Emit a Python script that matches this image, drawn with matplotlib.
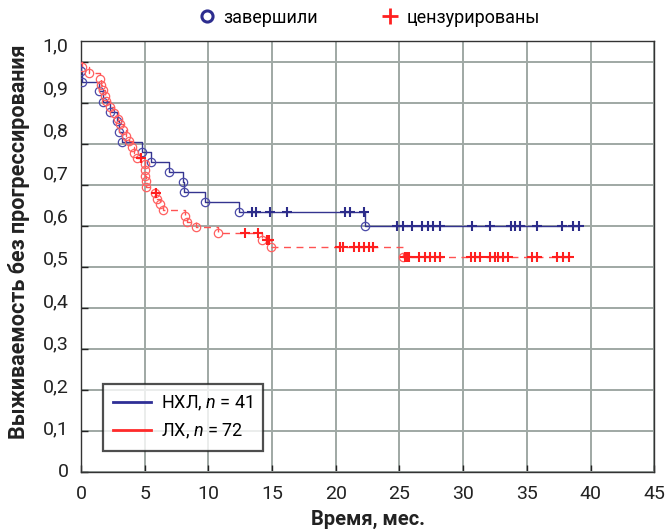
import numpy as np
import matplotlib
matplotlib.use("Agg")
import matplotlib.pyplot as plt
from matplotlib.lines import Line2D

plt.rcParams['font.family'] = ['Roboto', 'DejaVu Sans']
plt.rcParams['mathtext.fontset'] = 'custom'
plt.rcParams['mathtext.it'] = 'Roboto:italic'
plt.rcParams['mathtext.rm'] = 'Roboto'

# ---- data ----
blue_event_t = [0.03, 0.06, 1.4, 1.7, 2.3, 2.8, 2.95, 3.2, 4.8, 5.5, 6.9, 8.0, 8.05, 9.7, 12.4, 22.3]
blue_event_s = [0.976, 0.951, 0.927, 0.902, 0.878, 0.854, 0.829, 0.805, 0.780, 0.756, 0.732,
                0.707, 0.683, 0.659, 0.634, 0.600]
blue_cens_t = [13.4, 13.7, 14.8, 16.15, 20.7, 21.1, 22.2, 24.8, 25.3, 25.95, 26.8, 27.25, 27.64,
               28.17, 30.7, 32.1, 33.78, 34.1, 34.45, 35.8, 37.77, 38.6, 39.13]

red_event_t = [0.05, 0.6, 1.5, 1.6, 1.7, 1.85, 2.0, 2.3, 2.6, 2.9, 3.1, 3.3, 3.5, 3.8, 4.0, 4.2,
               4.4, 5.0, 5.02, 5.05, 5.08, 5.1, 5.8, 6.0, 6.2, 6.4, 8.2, 8.3, 9.05, 10.75,
               14.2, 14.9, 25.3]
red_event_s = [0.986, 0.972, 0.958, 0.944, 0.931, 0.917, 0.903, 0.889, 0.875, 0.861, 0.847,
               0.833, 0.819, 0.806, 0.792, 0.778, 0.764, 0.750, 0.736, 0.722, 0.708, 0.694,
               0.680, 0.666, 0.652, 0.638, 0.624, 0.610, 0.596, 0.582, 0.565, 0.547, 0.524]
red_cens_t = [4.7, 5.9, 12.84, 13.9, 14.6, 14.78, 20.3, 20.6, 21.4, 21.8, 22.2, 22.6, 22.9,
              25.45, 25.6, 25.75, 26.5, 27.0, 27.4, 27.8, 28.2, 30.6, 30.9, 31.3, 32.1, 32.5,
              32.7, 33.1, 33.5, 35.4, 35.8, 37.4, 37.8, 38.3]

x_ticks = [0, 5, 10, 15, 20, 25, 30, 35, 40, 45]
y_ticks = [0, 0.1, 0.2, 0.3, 0.4, 0.5, 0.6, 0.7, 0.8, 0.9, 1.0]
y_labels = ['0', '0,1', '0,2', '0,3', '0,4', '0,5', '0,6', '0,7', '0,8', '0,9', '1,0']
series_names = ['НХЛ, $n$ = 41', 'ЛХ, $n$ = 72']
top_legend = ['завершили', 'цензурированы']

BLUE_LINE = '#34348f'
BLUE_MARK = '#4a4aa8'
RED_LINE = '#ff5252'
RED_MARK = '#ff6060'


def level_at(ev_t, ev_s, t):
    idx = np.searchsorted(np.asarray(ev_t), t, side='right') - 1
    return 1.0 if idx < 0 else ev_s[idx]


fig = plt.figure(figsize=(6.65, 5.31), dpi=100)
ax = fig.add_axes([0.1218, 0.111, 0.862, 0.8118])

# step curves
bx = [0] + blue_event_t + [max(blue_cens_t)]
by = [1.0] + blue_event_s + [blue_event_s[-1]]
ax.step(bx, by, where='post', color=BLUE_LINE, lw=1.0, zorder=3)
rx = [0] + red_event_t + [max(red_cens_t)]
ry = [1.0] + red_event_s + [red_event_s[-1]]
ax.step(rx, ry, where='post', color=RED_LINE, lw=1.0, ls=(0, (5, 4)), zorder=3)

# event markers
ax.plot(blue_event_t, blue_event_s, 'o', mfc='none', mec=BLUE_MARK, ms=6, mew=0.9, zorder=4)
ax.plot(red_event_t, red_event_s, 'o', mfc='none', mec=RED_MARK, ms=6, mew=0.9, zorder=4)
# censored markers
ax.plot(blue_cens_t, [level_at(blue_event_t, blue_event_s, t) for t in blue_cens_t], '+',
        color='#2c2c8a', ms=7, mew=1.5, zorder=5)
ax.plot(red_cens_t, [level_at(red_event_t, red_event_s, t) for t in red_cens_t], '+',
        color='#ff1f1f', ms=7, mew=1.5, zorder=5)

ax.set_xlim(0, 45)
ax.set_ylim(0, 1.05)
ax.set_xticks(x_ticks)
ax.set_xticklabels([str(v) for v in x_ticks])
# grid / tick marks at the true values
ax.set_yticks(y_ticks, minor=True)
ax.set_yticks([0.004 + 1.037 * v for v in y_ticks])
ax.set_yticklabels(y_labels)
ax.tick_params(axis='y', which='major', length=0, pad=9, labelsize=14, colors='#222222')
ax.tick_params(axis='y', which='minor', direction='in', length=5, width=1, color='#222222')
ax.tick_params(axis='x', which='major', direction='in', length=5, width=1, pad=9,
               labelsize=14, colors='#222222')
ax.grid(True, which='minor', axis='y', color='#9fa8a4', lw=1.4)
ax.grid(True, which='major', axis='x', color='#9fa8a4', lw=1.4)
ax.set_axisbelow(True)
for s in ax.spines.values():
    s.set_color('#333333')
    s.set_linewidth(1.0)

ax.set_xlabel('Время, мес.', fontsize=14.5, fontweight='bold', color='#222222', labelpad=5)
ax.set_ylabel('Выживаемость без прогрессирования', fontsize=15.5, fontweight='bold',
              color='#222222')
ax.yaxis.set_label_coords(-0.089, 0.534)

# inner legend
h1 = Line2D([], [], color='#2f2f96', lw=2)
h2 = Line2D([], [], color='#ff2a2a', lw=2)
leg = ax.legend([h1, h2], series_names, loc='lower left', bbox_to_anchor=(0.038, 0.05),
                fontsize=13, frameon=True, fancybox=False, edgecolor='#222222',
                handlelength=2.1, handletextpad=0.6, borderpad=0.55, labelspacing=0.45,
                borderaxespad=0)
leg.get_frame().set_linewidth(1.6)

# top legend
t1 = Line2D([], [], marker='o', ls='none', mfc='none', mec='#2d2d8f', mew=2.2, ms=8)
t2 = Line2D([], [], marker='+', ls='none', color='#ff2020', mew=2.0, ms=11)
fig.legend([t1, t2], top_legend, loc='center', bbox_to_anchor=(0.553, 0.967), ncol=2,
           frameon=False, fontsize=13, handletextpad=0.3, columnspacing=3.4,
           handlelength=1.2)

fig.savefig('out.png', dpi=100)
